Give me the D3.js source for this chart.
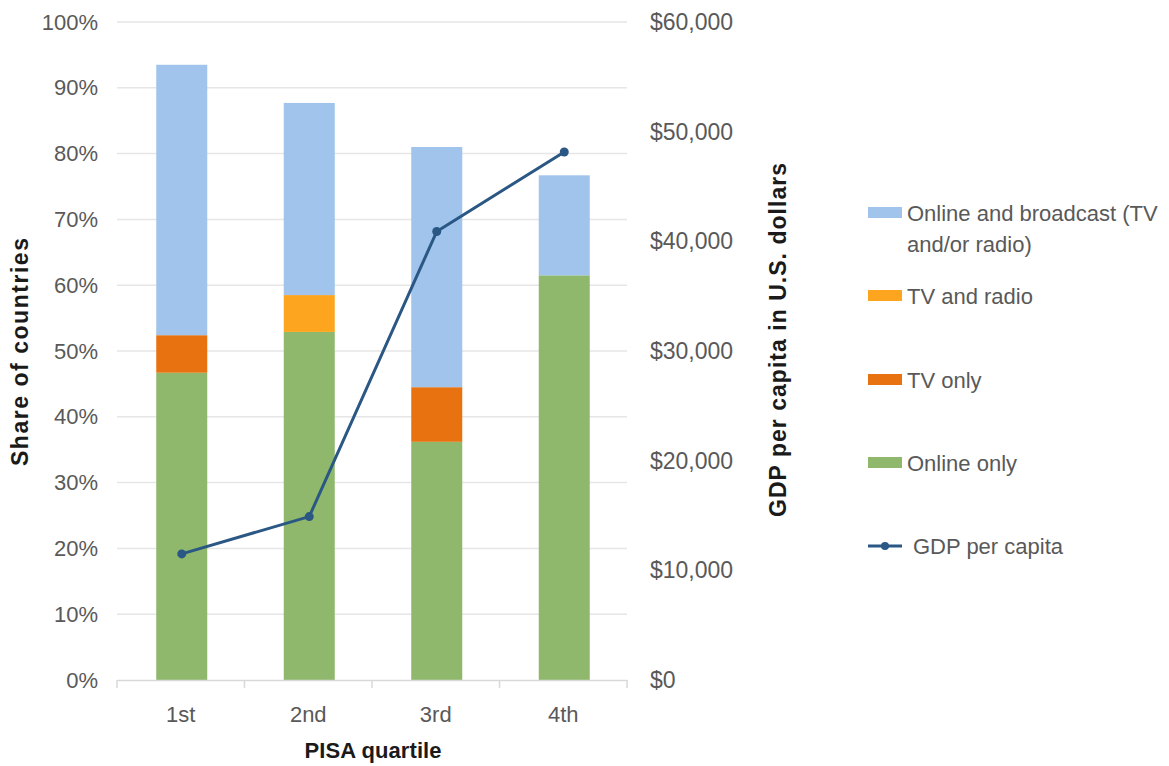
<!DOCTYPE html>
<html>
<head>
<meta charset="utf-8">
<script src="https://cdn.jsdelivr.net/npm/d3@7"></script>
<style>
  body { margin: 0; background: #fff; }
  text { font-family: "Liberation Sans Narrow", "Liberation Sans", Arial, sans-serif; }
</style>
</head>
<body>
<div id="chart"></div>
<script>
// data
const quartiles = ['1st', '2nd', '3rd', '4th'];
const onlineOnly = [46.7, 52.9, 36.2, 61.5];
const tvOnly = [5.7, 0, 8.3, 0];
const tvAndRadio = [0, 5.6, 0, 0];
const onlineBroadcast = [41.1, 29.2, 36.5, 15.2];
const gdp = [11500, 14900, 40900, 48150];

const pctTicks = [0, 10, 20, 30, 40, 50, 60, 70, 80, 90, 100];
const gdpTicks = [0, 10000, 20000, 30000, 40000, 50000, 60000];

const seriesNames = ['Online only', 'TV only', 'TV and radio', 'Online and broadcast (TV and/or radio)'];
const seriesColors = ['#8fb86c', '#e8720f', '#fda51e', '#a0c4ec'];
const lineColor = '#2a5784';

const W = 1169, H = 766;
const margin = { top: 22, right: 542, bottom: 86, left: 117 };
const width = W - margin.left - margin.right,
  height = H - margin.top - margin.bottom;

const svg = d3.select('#chart')
  .append('svg')
  .attr('width', W)
  .attr('height', H);

const g = svg.append('g')
  .attr('transform', `translate(${margin.left}, ${margin.top})`);

const xStep = d3.scaleBand().domain(quartiles).range([0, width]);
const y = d3.scaleLinear().domain([0, 100]).range([height, 0]);
const y2 = d3.scaleLinear().domain([0, 60000]).range([height, 0]);
const barW = 51;
const cx = q => xStep(q) + xStep.bandwidth() / 2 + 1;

// gridlines
g.append('g')
  .selectAll('line')
  .data(pctTicks.slice(1))
  .join('line')
  .attr('x1', 0).attr('x2', width)
  .attr('y1', d => y(d)).attr('y2', d => y(d))
  .attr('stroke', '#e6e6e6')
  .attr('stroke-width', 1.5);

// stacked bars
const rows = quartiles.map((q, i) => ({
  q,
  'Online only': onlineOnly[i],
  'TV only': tvOnly[i],
  'TV and radio': tvAndRadio[i],
  'Online and broadcast (TV and/or radio)': onlineBroadcast[i]
}));
const stacked = d3.stack().keys(seriesNames)(rows);

g.selectAll('g.layer')
  .data(stacked)
  .join('g')
  .attr('class', 'layer')
  .attr('fill', (d, i) => seriesColors[i])
  .selectAll('rect')
  .data(d => d)
  .join('rect')
  .attr('x', d => cx(d.data.q) - barW / 2)
  .attr('width', barW)
  .attr('y', d => y(d[1]))
  .attr('height', d => y(d[0]) - y(d[1]));

// x axis
const xAxis = g.append('g')
  .attr('transform', `translate(0, ${height})`)
  .call(d3.axisBottom(xStep).tickSize(0).tickPadding(26));
xAxis.select('.domain').attr('stroke', '#d9d9d9').attr('stroke-width', 1.5);
xAxis.selectAll('text').attr('font-size', 22).attr('fill', '#595959');
g.append('g')
  .selectAll('line')
  .data(d3.range(quartiles.length + 1))
  .join('line')
  .attr('x1', i => i * xStep.step()).attr('x2', i => i * xStep.step())
  .attr('y1', height).attr('y2', height + 8)
  .attr('stroke', '#d9d9d9')
  .attr('stroke-width', 1.5);

// left axis
const yAxis = g.append('g')
  .call(d3.axisLeft(y).tickValues(pctTicks).tickFormat(d => d + '%').tickSize(0).tickPadding(19));
yAxis.select('.domain').remove();
yAxis.selectAll('text').attr('font-size', 22).attr('fill', '#595959');

// right axis
const y2Axis = g.append('g')
  .attr('transform', `translate(${width}, 0)`)
  .call(d3.axisRight(y2).tickValues(gdpTicks).tickFormat(d => '$' + d3.format(',')(d)).tickSize(0).tickPadding(23));
y2Axis.select('.domain').remove();
y2Axis.selectAll('text').attr('font-size', 23).attr('fill', '#595959');

// GDP line
const line = d3.line()
  .x((d, i) => cx(quartiles[i]))
  .y(d => y2(d));
g.append('path')
  .datum(gdp)
  .attr('fill', 'none')
  .attr('stroke', lineColor)
  .attr('stroke-width', 3)
  .attr('d', line);
g.selectAll('circle.pt')
  .data(gdp)
  .join('circle')
  .attr('class', 'pt')
  .attr('cx', (d, i) => cx(quartiles[i]))
  .attr('cy', d => y2(d))
  .attr('r', 4.5)
  .attr('fill', lineColor);

// axis titles
const titleFont = '"Liberation Sans", Arial, sans-serif';
svg.append('text')
  .attr('transform', 'translate(28, 352) rotate(-90)')
  .attr('text-anchor', 'middle')
  .attr('font-size', 23)
  .attr('font-weight', 'bold')
  .attr('fill', '#1a1a1a')
  .attr('textLength', 228)
  .style('font-family', titleFont)
  .text('Share of countries');

svg.append('text')
  .attr('transform', 'translate(786, 340) rotate(-90)')
  .attr('text-anchor', 'middle')
  .attr('font-size', 23)
  .attr('font-weight', 'bold')
  .attr('fill', '#1a1a1a')
  .attr('textLength', 354)
  .style('font-family', titleFont)
  .text('GDP per capita in U.S. dollars');

svg.append('text')
  .attr('x', 373)
  .attr('y', 758)
  .attr('text-anchor', 'middle')
  .attr('font-size', 22)
  .attr('font-weight', 'bold')
  .attr('fill', '#1a1a1a')
  .attr('textLength', 137)
  .style('font-family', titleFont)
  .text('PISA quartile');

// legend
const legend = svg.append('g').attr('transform', 'translate(868, 0)');
const legendItems = [
  { color: seriesColors[3], lines: ['Online and broadcast (TV', 'and/or radio)'], y: 213 },
  { color: seriesColors[2], lines: ['TV and radio'], y: 296 },
  { color: seriesColors[1], lines: ['TV only'], y: 380 },
  { color: seriesColors[0], lines: ['Online only'], y: 463 }
];
legendItems.forEach(it => {
  legend.append('rect')
    .attr('x', 0).attr('y', it.y - 6)
    .attr('width', 34).attr('height', 11)
    .attr('fill', it.color);
  const t = legend.append('text')
    .attr('x', 39).attr('y', it.y + 8)
    .attr('font-size', 22)
    .attr('fill', '#595959');
  it.lines.forEach((l, k) => {
    t.append('tspan').attr('x', 39).attr('dy', k === 0 ? 0 : 31).text(l);
  });
});
legend.append('line')
  .attr('x1', 0).attr('x2', 34)
  .attr('y1', 546).attr('y2', 546)
  .attr('stroke', lineColor).attr('stroke-width', 3);
legend.append('circle')
  .attr('cx', 17).attr('cy', 546).attr('r', 4)
  .attr('fill', lineColor);
legend.append('text')
  .attr('x', 45).attr('y', 554)
  .attr('font-size', 22)
  .attr('fill', '#595959')
  .text('GDP per capita');
</script>
</body>
</html>
